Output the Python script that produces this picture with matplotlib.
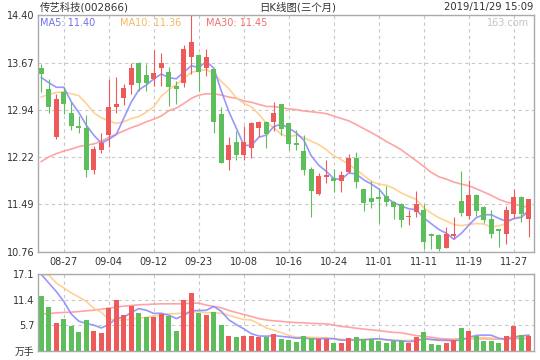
import matplotlib

matplotlib.use('Agg')
import numpy as np
import pandas as pd
import matplotlib.pyplot as plt

plt.rcParams['font.family'] = ['DejaVu Sans', 'Noto Sans CJK SC']

dates = ['08-22', '08-23', '08-26', '08-27', '08-28', '08-29', '08-30',
         '09-02', '09-03', '09-04', '09-05', '09-06', '09-09', '09-10', '09-11', '09-12',
         '09-16', '09-17', '09-18', '09-19', '09-20', '09-23', '09-24', '09-25', '09-26',
         '09-27', '09-30',
         '10-08', '10-09', '10-10', '10-11', '10-14', '10-15', '10-16', '10-17', '10-18',
         '10-21', '10-22', '10-23', '10-24', '10-25', '10-28', '10-29', '10-30', '10-31',
         '11-01', '11-04', '11-05', '11-06', '11-07', '11-08', '11-11', '11-12', '11-13',
         '11-14', '11-15', '11-18', '11-19', '11-20', '11-21', '11-22', '11-25', '11-26',
         '11-27', '11-28', '11-29']

opens = [13.58, 13.26, 12.52, 13.21, 12.90, 12.70, 12.67, 12.02, 12.33, 12.56,
         12.99, 13.13, 13.33, 13.67, 13.48, 13.41, 13.58, 13.52, 13.31, 13.36,
         13.75, 13.78, 13.58, 13.57, 12.88, 12.17, 12.45, 12.25, 12.35, 12.66,
         12.76, 12.76, 13.04, 12.74, 12.43, 12.31, 12.04, 11.65, 11.91, 11.89,
         11.85, 11.99, 12.20, 11.72, 11.59, 11.60, 11.62, 11.53, 11.49, 11.30,
         11.37, 11.40, 11.03, 11.02, 10.82, 11.00, 11.55, 11.32, 11.63, 11.45,
         11.26, 11.11, 11.04, 11.34, 11.60, 11.26]
highs = [13.65, 13.41, 13.18, 13.29, 13.06, 12.85, 12.86, 12.39, 12.59, 13.41,
         13.45, 13.34, 13.67, 13.68, 13.64, 13.86, 13.81, 13.60, 13.39, 13.94,
         14.40, 13.80, 13.88, 13.57, 12.98, 12.52, 12.62, 12.69, 12.75, 12.77,
         12.77, 13.06, 13.04, 12.74, 12.63, 12.55, 12.07, 11.97, 12.17, 12.04,
         12.00, 12.27, 12.29, 11.72, 11.85, 11.75, 11.77, 11.55, 11.51, 11.41,
         11.69, 11.49, 11.05, 11.04, 11.14, 11.29, 12.00, 11.86, 11.65, 11.47,
         11.40, 11.12, 11.46, 11.72, 11.62, 11.58]
lows = [13.21, 12.89, 12.50, 12.88, 12.64, 12.59, 11.91, 11.96, 12.28, 12.37,
        12.89, 13.02, 13.19, 13.24, 13.24, 13.31, 13.31, 13.00, 13.03, 13.29,
        13.49, 13.24, 13.47, 12.59, 12.12, 12.02, 12.17, 12.18, 12.20, 12.52,
        12.35, 12.62, 12.56, 12.32, 12.32, 11.94, 11.30, 11.64, 11.82, 11.68,
        11.68, 11.98, 11.75, 11.39, 11.44, 11.20, 11.46, 11.26, 11.15, 11.17,
        11.29, 10.81, 10.81, 10.77, 10.82, 10.96, 11.31, 11.27, 11.31, 11.21,
        10.97, 10.83, 10.89, 11.28, 11.22, 10.99]
closes = [13.49, 12.99, 13.11, 13.04, 12.70, 12.67, 12.02, 12.34, 12.43, 12.99,
          13.04, 13.28, 13.58, 13.36, 13.36, 13.51, 13.66, 13.30, 13.27, 13.88,
          13.99, 13.53, 13.76, 12.76, 12.13, 12.41, 12.25, 12.45, 12.74, 12.76,
          12.58, 12.90, 12.65, 12.42, 12.40, 12.02, 11.69, 11.93, 11.95, 11.85,
          11.95, 12.20, 11.83, 11.51, 11.53, 11.57, 11.53, 11.45, 11.25, 11.32,
          11.49, 10.91, 11.00, 10.81, 11.03, 11.03, 11.36, 11.63, 11.39, 11.25,
          11.03, 11.08, 11.40, 11.60, 11.34, 11.58]

# volume, 10k lots (万手)
volumes = [12.12, 9.67, 6.32, 7.21, 5.65, 4.31, 6.99, 4.54, 4.09, 9.44,
           11.23, 8.03, 10.04, 8.33, 7.66, 7.66, 8.25, 7.88, 4.54, 11.23,
           12.79, 8.55, 8.10, 8.77, 5.80, 3.42, 3.20, 3.42, 3.42, 3.20,
           3.20, 3.79, 2.68, 2.45, 2.08, 3.35, 2.90, 2.75, 2.75, 1.78,
           1.78, 2.90, 3.12, 2.68, 2.68, 2.30, 1.78, 2.23, 2.23, 1.78,
           3.20, 4.24, 1.56, 1.34, 1.78, 2.45, 5.13, 4.54, 3.35, 2.23,
           2.23, 1.78, 3.35, 5.58, 3.57, 3.35]

# moving-average values before the window is full
ma5_head = [13.44, 13.36, 13.29, 13.29]
ma10_head = [13.14, 13.18, 13.21, 13.22, 13.19, 13.16, 13.04, 12.90, 12.82]
ma30_head = [12.15, 12.22, 12.27, 12.31, 12.34, 12.38, 12.40, 12.42, 12.46, 12.52,
             12.57, 12.62, 12.67, 12.71, 12.76, 12.80, 12.85, 12.93, 12.97, 13.04,
             13.12, 13.17, 13.19, 13.19, 13.17, 13.14, 13.12, 13.08, 13.06]
vma5_head = [17.0, 15.1, 13.2, 11.0]
vma10_head = [17.0, 16.9, 15.1, 14.0, 12.9, 12.0, 11.0, 9.5, 8.6]
vma30_head = [8.25, 8.33, 8.48, 8.55, 8.62, 8.77, 8.92, 9.07, 9.29, 9.52,
              9.74, 9.96, 10.11, 10.26, 10.33, 10.41, 10.48, 10.48, 10.48, 10.48,
              10.63, 10.63, 10.19, 9.89, 9.59, 9.00, 8.55, 8.10, 7.66]

price_ticks = [10.76, 11.49, 12.22, 12.94, 13.67, 14.40]
vol_ticks = [0, 5.7, 11.4, 17.1]
vol_labels = ['万手', '5.7', '11.4', '17.1']

RED = '#ee5a5a'
GREEN = '#5cbf5c'
C_MA5 = '#8c8cff'
C_MA10 = '#ffcc8a'
C_MA30 = '#ff9a9a'
GRID = '#c8c8c8'
FRAME = '#aaaaaa'
TXT = '#333333'


def moving_avg(values, n, head):
    s = pd.Series(values).rolling(n).mean()
    s.iloc[:n - 1] = head
    return s.values


def style_axes(ax, xt):
    for sp in ax.spines.values():
        sp.set_color(FRAME)
        sp.set_linewidth(1)
        sp.set_zorder(5)
    ax.set_xticks(xt)
    ax.grid(True, color=GRID, linestyle=(0, (3, 3)), linewidth=0.8)
    ax.set_axisbelow(True)
    ax.tick_params(length=0, colors=TXT, labelsize=7, pad=2.5)


def draw_ma(ax, x, series, heads):
    # MA lines sit under the candles / bars
    for n, head, col in zip((30, 10, 5), heads, (C_MA30, C_MA10, C_MA5)):
        ax.plot(x, moving_avg(series, n, head), color=col, lw=1.2, alpha=0.9, zorder=2)


def make_plot():
    o = np.array(opens)
    h = np.array(highs)
    l = np.array(lows)
    c = np.array(closes)
    v = np.array(volumes)
    x = np.arange(len(dates))
    colors = np.where(c >= o, RED, GREEN)
    xt = x[3::6]
    xlim = (-0.44, 65.69)

    fig = plt.figure(figsize=(5.4, 3.6), dpi=100)
    ax = fig.add_axes([38 / 540, 1 - 252 / 360, 496 / 540, 237 / 360])
    axv = fig.add_axes([38 / 540, 1 - 351 / 360, 496 / 540, 77 / 360])

    # price panel
    draw_ma(ax, x, c, (ma30_head, ma10_head, ma5_head))
    ax.vlines(x, l, h, colors=colors, linewidth=0.8, zorder=3)
    body = np.maximum(np.abs(c - o), 0.015)
    ax.bar(x, body, bottom=np.minimum(o, c), width=0.62, color=colors, linewidth=0, zorder=3)
    style_axes(ax, xt)
    ax.set_xlim(*xlim)
    ax.set_ylim(10.76, 14.40)
    ax.set_yticks(price_ticks)
    ax.set_yticklabels(['%.2f' % t for t in price_ticks])
    ax.set_xticklabels([dates[i] for i in xt])
    ax.tick_params(axis='x', pad=3.5)

    fig.text(40 / 540, 1 - 23 / 360, 'MA5: 11.40', color='#7070ee', fontsize=7, va='center')
    fig.text(120 / 540, 1 - 23 / 360, 'MA10: 11.36', color='#f5b860', fontsize=7, va='center')
    fig.text(206 / 540, 1 - 23 / 360, 'MA30: 11.45', color='#f07070', fontsize=7, va='center')
    fig.text(529 / 540, 1 - 23 / 360, '163.com', color='#c4c4c4', fontsize=7, va='center', ha='right')

    # volume panel
    draw_ma(axv, x, v, (vma30_head, vma10_head, vma5_head))
    axv.bar(x, v, width=0.62, color=colors, linewidth=0, zorder=3)
    style_axes(axv, xt)
    axv.set_xlim(*xlim)
    axv.set_ylim(0, 17.1)
    axv.set_yticks(vol_ticks)
    axv.set_yticklabels(vol_labels)
    axv.set_xticklabels([])

    # header
    fig.text(40 / 540, 1 - 7 / 360, '传艺科技(002866)', color=TXT, fontsize=7.5, va='center')
    fig.text(298 / 540, 1 - 7 / 360, '日K线图(三个月)', color=TXT, fontsize=7.5, va='center', ha='center')
    fig.text(533 / 540, 1 - 7 / 360, '2019/11/29 15:09', color=TXT, fontsize=7.2, va='center', ha='right')

    fig.savefig('out.png', dpi=100)


if __name__ == '__main__':
    make_plot()
